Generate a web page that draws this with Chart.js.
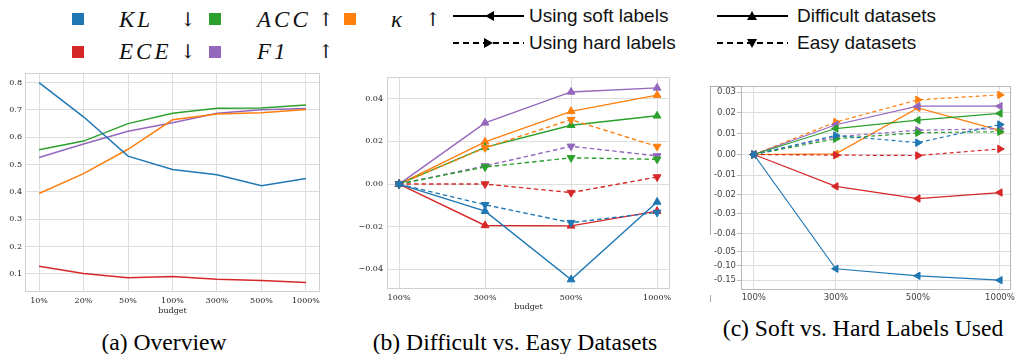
<!DOCTYPE html>
<html><head><meta charset="utf-8">
<script src="https://cdn.jsdelivr.net/npm/chart.js@4.4.0/dist/chart.umd.min.js"></script>
<style>
html,body{margin:0;padding:0;background:#fff;width:1018px;height:354px;overflow:hidden;position:relative;}
.sq{position:absolute;width:12px;height:12px;}
.math{position:absolute;font-family:"Liberation Serif",serif;font-style:italic;font-size:23px;line-height:22px;color:#111;letter-spacing:3px;}
.arr{position:absolute;font-family:"DejaVu Serif",serif;font-size:19px;line-height:22px;color:#111;}
.leg{position:absolute;font-family:"Liberation Sans",sans-serif;font-size:19px;line-height:22px;color:#111;white-space:nowrap;}
.cap{position:absolute;font-family:"Liberation Serif",serif;font-size:23.6px;line-height:26px;color:#000;text-align:center;white-space:nowrap;}
canvas{position:absolute;}
svg{position:absolute;}
.fr{position:absolute;border-color:#aaa;border-style:solid;border-width:0;}
</style>
</head><body>

<!-- colour legend -->
<div class="sq" style="left:72px;top:13px;background:#1f77b4"></div>
<div class="math" style="left:119px;top:9px">KL</div>
<div class="arr" style="left:180px;top:8px">↓</div>
<div class="sq" style="left:209px;top:13px;background:#2ca02c"></div>
<div class="math" style="left:257px;top:9px">ACC</div>
<div class="arr" style="left:318px;top:8px">↑</div>
<div class="sq" style="left:344px;top:13px;background:#ff7f0e"></div>
<div class="math" style="left:391px;top:9px">κ</div>
<div class="arr" style="left:425px;top:8px">↑</div>

<div class="sq" style="left:72px;top:46px;background:#d62728"></div>
<div class="math" style="left:119px;top:41px">ECE</div>
<div class="arr" style="left:180px;top:40px">↓</div>
<div class="sq" style="left:209px;top:46px;background:#9467bd"></div>
<div class="math" style="left:257px;top:41px">F1</div>
<div class="arr" style="left:318px;top:40px">↑</div>

<!-- style legend -->
<svg style="left:452px;top:6px" width="74" height="20"><line x1="1" y1="10" x2="72" y2="10" stroke="#000" stroke-width="2"/><polygon points="33,10 42,5 42,15" fill="#000"/></svg>
<div class="leg" style="left:529px;top:5px">Using soft labels</div>
<svg style="left:452px;top:33px" width="74" height="20"><line x1="1" y1="10" x2="72" y2="10" stroke="#000" stroke-width="2" stroke-dasharray="6,4"/><polygon points="41,10 32,5 32,15" fill="#000"/></svg>
<div class="leg" style="left:529px;top:32px">Using hard labels</div>
<svg style="left:716px;top:6px" width="74" height="20"><line x1="1" y1="10" x2="72" y2="10" stroke="#000" stroke-width="2"/><polygon points="36,5 31,14 41,14" fill="#000"/></svg>
<div class="leg" style="left:797px;top:5px">Difficult datasets</div>
<svg style="left:716px;top:33px" width="74" height="20"><line x1="1" y1="10" x2="72" y2="10" stroke="#000" stroke-width="2" stroke-dasharray="6,4"/><polygon points="36,15 31,6 41,6" fill="#000"/></svg>
<div class="leg" style="left:797px;top:32px">Easy datasets</div>

<canvas id="ca" width="330" height="255" style="left:0px;top:65px;width:330px;height:255px"></canvas>
<canvas id="cb" width="340" height="255" style="left:340px;top:65px;width:340px;height:255px"></canvas>
<canvas id="cc" width="328" height="240" style="left:690px;top:75px;width:328px;height:240px"></canvas>

<div class="fr" style="left:710px;top:86px;width:31px;height:148px;border-left-width:1px;border-top-width:1px"></div>
<div class="fr" style="left:710px;top:295px;width:0px;height:7px;border-left-width:1px"></div>

<div class="cap" style="left:64px;top:329px;width:200px">(a) Overview</div>
<div class="cap" style="left:365px;top:329px;width:300px">(b) Difficult vs. Easy Datasets</div>
<div class="cap" style="left:713px;top:315px;width:300px">(c) Soft vs. Hard Labels Used</div>

<script>
// ---------- data ----------
const budgetA = ['10%','20%','50%','100%','300%','500%','1000%'];
const klA    = [0.800,0.675,0.531,0.482,0.463,0.422,0.449];
const eceA   = [0.127,0.101,0.085,0.090,0.080,0.075,0.068];
const accA   = [0.554,0.586,0.650,0.688,0.706,0.707,0.718];
const kappaA = [0.394,0.467,0.556,0.664,0.685,0.690,0.702];
const f1A    = [0.526,0.575,0.622,0.653,0.688,0.701,0.705];
const ticksA = [0.1,0.2,0.3,0.4,0.5,0.6,0.7,0.8];

const budgetB = ['100%','300%','500%','1000%'];
const klDiffB    = [0,-0.0127,-0.0448,-0.0084];
const eceDiffB   = [0,-0.0194,-0.0196,-0.0127];
const accDiffB   = [0, 0.0172, 0.0276, 0.0320];
const kappaDiffB = [0, 0.0198, 0.0341, 0.0417];
const f1DiffB    = [0, 0.0287, 0.0432, 0.0451];
const klEasyB    = [0,-0.0097,-0.0181,-0.0133];
const eceEasyB   = [0, 0.0000,-0.0040, 0.0033];
const accEasyB   = [0, 0.0080, 0.0123, 0.0116];
const kappaEasyB = [0, 0.0170, 0.0302, 0.0176];
const f1EasyB    = [0, 0.0085, 0.0177, 0.0132];
const ticksB = [-0.04,-0.02,0,0.02,0.04];
const tickLabelsB = ['\u22120.04','\u22120.02','0.00','0.02','0.04'];

const budgetC = ['100%','300%','500%','1000%'];
const klSoftC    = [0,-0.111,-0.135,-0.150];
const eceSoftC   = [0,-0.0158,-0.0221,-0.0190];
const accSoftC   = [0, 0.0125, 0.0165, 0.0197];
const kappaSoftC = [0, 0.0003, 0.0224, 0.0116];
const f1SoftC    = [0, 0.0143, 0.0232, 0.0232];
const klHardC    = [0, 0.0092, 0.0057, 0.0144];
const eceHardC   = [0,-0.0003,-0.0005, 0.0027];
const accHardC   = [0, 0.0076, 0.0105, 0.0110];
const kappaHardC = [0, 0.0156, 0.0263, 0.0287];
const f1HardC    = [0, 0.0086, 0.0117, 0.0124];
const ticksC = [0.03,0.02,0.01,0,-0.01,-0.02,-0.03,-0.04,-0.05,-0.10,-0.15];
const tickLabelsC = ['0.03','0.02','0.01','0.00','-0.01','-0.02','-0.03','-0.04','-0.05','-0.10','-0.15'];

// ---------- styling ----------
const C = {kl:'#1f77b4', ece:'#d62728', acc:'#2ca02c', kappa:'#ff7f0e', f1:'#9467bd'};
const GRID = '#dedede';

// broken-axis layout for panel (c): gap between consecutive ticks (axis units)
const gapsC = [20.6,21.0,20.7,20.7,19.3,19.3,20.0,18.0,13.7,14.7];
const posC = [0]; gapsC.forEach((g,i)=>posC.push(posC[i]-g));
const zeroC = posC[ticksC.indexOf(0)];
const warpPos = posC.map(p=>p-zeroC);
function warpC(v){
  for(let i=0;i<ticksC.length-1;i++){
    const a=ticksC[i], b=ticksC[i+1];
    if(v<=a && v>=b){ return warpPos[i] + (v-a)/(b-a)*(warpPos[i+1]-warpPos[i]); }
  }
  return v>ticksC[0] ? warpPos[0] + (v-ticksC[0])/(ticksC[0]-ticksC[1])*(warpPos[0]-warpPos[1]) : warpPos[warpPos.length-1];
}

const frame = {id:'frame', beforeDatasetsDraw(chart,args,opts){
  const {ctx, chartArea:a} = chart; ctx.save(); ctx.strokeStyle = opts.color; ctx.lineWidth=1;
  ctx.strokeRect(Math.round(a.left)+0.5, Math.round(a.top)+0.5, Math.round(a.right-a.left)-1, Math.round(a.bottom-a.top)-1);
  ctx.restore(); }};

function pts(arr, f){ return arr.map((v,i)=>({x:i, y: f? f(v): v})); }

function xAxis(labels, min, max, font, color, height, titleOpts, pad){
  return {type:'linear', min, max,
    afterBuildTicks: s=>{ s.ticks = labels.map((l,i)=>({value:i})); },
    afterFit: s=>{ s.height = height; },
    ticks:{callback:v=>labels[v], font, color, padding:pad, maxRotation:0, autoSkip:false},
    grid:{color:GRID, drawTicks:false, lineWidth:1},
    border:{display:false},
    title: titleOpts};
}

Chart.defaults.animation = false;
Chart.defaults.responsive = false;

// ---------- (a) ----------
const serif = {family:'DejaVu Serif', size:8};
function lineA(data, col){ return {data: pts(data), borderColor:col, backgroundColor:col, borderWidth:1.5, pointRadius:0, tension:0}; }
new Chart(document.getElementById('ca'), {
  type:'line',
  data:{datasets:[lineA(klA,C.kl), lineA(eceA,C.ece), lineA(accA,C.acc), lineA(kappaA,C.kappa), lineA(f1A,C.f1)]},
  options:{
    layout:{padding:{left:0,right:10,top:8,bottom:0}},
    plugins:{legend:{display:false}, tooltip:{enabled:false}, frame:{color:'#d0d0d0'}},
    scales:{
      x: xAxis(budgetA, -0.315, 6.315, serif, '#222', 28, {display:true, text:'budget', font:serif, color:'#222', padding:{top:0,bottom:4}}, 4),
      y: {type:'linear', min:0.033, max:0.8355,
        afterBuildTicks: s=>{ s.ticks = ticksA.map(v=>({value:v})); },
        afterFit: s=>{ s.width = 25; },
        ticks:{callback:v=>v.toFixed(1), font:serif, color:'#222', padding:3},
        grid:{color:GRID, drawTicks:false}, border:{display:false}}
    }
  },
  plugins:[frame]
});

// ---------- (b) ----------
function lineB(data, col, easy){
  return {data: pts(data), borderColor:col, backgroundColor:col, borderWidth:1.4,
    borderDash: easy?[4.5,3]:[], pointStyle:'triangle', pointRotation: easy?180:0,
    pointRadius:4.5, pointBorderWidth:1, tension:0};
}
new Chart(document.getElementById('cb'), {
  type:'line',
  data:{datasets:[
    lineB(klEasyB,C.kl,true), lineB(eceEasyB,C.ece,true), lineB(accEasyB,C.acc,true), lineB(f1EasyB,C.f1,true), lineB(kappaEasyB,C.kappa,true),
    lineB(klDiffB,C.kl,false), lineB(eceDiffB,C.ece,false), lineB(accDiffB,C.acc,false), lineB(f1DiffB,C.f1,false), lineB(kappaDiffB,C.kappa,false)
  ]},
  options:{
    layout:{padding:{left:0,right:10,top:12,bottom:0}},
    plugins:{legend:{display:false}, tooltip:{enabled:false}, frame:{color:'#d0d0d0'}},
    scales:{
      x: xAxis(budgetB, -0.14, 3.15, serif, '#222', 31, {display:true, text:'budget', font:serif, color:'#222', padding:{top:0,bottom:8}}, 4),
      y: {type:'linear', min:-0.0492, max:0.0502,
        afterBuildTicks: s=>{ s.ticks = ticksB.map(v=>({value:v})); },
        afterFit: s=>{ s.width = 47; },
        ticks:{callback:v=>tickLabelsB[ticksB.findIndex(t=>Math.abs(t-v)<1e-9)], font:serif, color:'#222', padding:4},
        grid:{color:GRID, drawTicks:false}, border:{display:false}}
    }
  },
  plugins:[frame]
});

// ---------- (c) ----------
const sans = {family:'DejaVu Sans', size:8.5};
function lineC(data, col, hard){
  return {data: pts(data, warpC), borderColor:col, backgroundColor:col, borderWidth:1.2,
    borderDash: hard?[4,3]:[], pointStyle:'triangle', pointRotation: hard?90:-90,
    pointRadius:4.3, pointBorderWidth:1, tension:0};
}
new Chart(document.getElementById('cc'), {
  type:'line',
  data:{datasets:[
    lineC(klSoftC,C.kl,false), lineC(eceSoftC,C.ece,false), lineC(accSoftC,C.acc,false), lineC(f1SoftC,C.f1,false),
    lineC(klHardC,C.kl,true), lineC(eceHardC,C.ece,true), lineC(accHardC,C.acc,true), lineC(f1HardC,C.f1,true),
    lineC(kappaHardC,C.kappa,true), lineC(kappaSoftC,C.kappa,false)
  ]},
  options:{
    layout:{padding:{left:0,right:3,top:11,bottom:0}},
    plugins:{legend:{display:false}, tooltip:{enabled:false}, frame:{color:'#b8b8b8'}},
    scales:{
      x: xAxis(budgetC, -0.156, 3.14, sans, '#444', 25, {display:false}, 3),
      y: {type:'linear', min:-135.5, max:68.5,
        afterBuildTicks: s=>{ s.ticks = warpPos.map(v=>({value:v})); },
        afterFit: s=>{ s.width = 51; },
        ticks:{callback:(v,i)=>tickLabelsC[i], font:sans, color:'#444', padding:1},
        grid:{color:GRID, drawTicks:true, tickLength:4, tickColor:'#bbb'}, border:{display:false}}
    }
  },
  plugins:[frame]
});
</script>
</body></html>
